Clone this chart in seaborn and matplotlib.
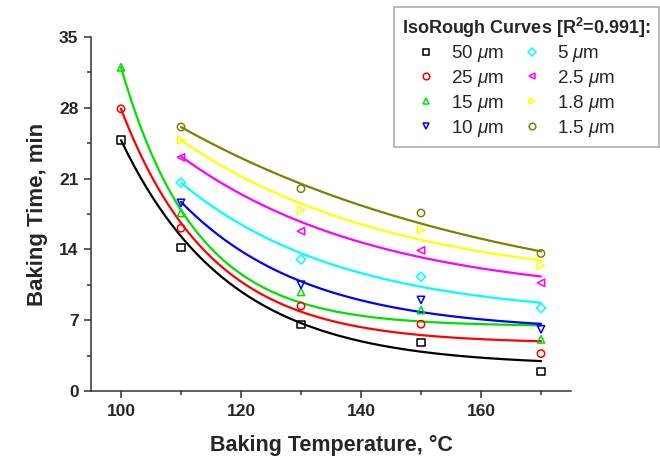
import numpy as np
import pandas as pd
import matplotlib
matplotlib.use("Agg")
import matplotlib.pyplot as plt
from matplotlib.lines import Line2D
from matplotlib.ticker import MultipleLocator
import seaborn as sns

# ---- data ----
temps = [100, 110, 130, 150, 170]
series_names = ["50 $\\mu$m", "25 $\\mu$m", "15 $\\mu$m", "10 $\\mu$m",
                "5 $\\mu$m", "2.5 $\\mu$m", "1.8 $\\mu$m", "1.5 $\\mu$m"]
colors = ["#000000", "#FF0000", "#00E000", "#0000FF",
          "#00FFFF", "#FF00FF", "#FFFF00", "#808000"]
markers = ["s", "o", "^", "v", "D", "<", ">", "o"]

# measured baking times (min); None = no measurement at that temperature
t_50 = [24.8, 14.2, 6.6, 4.8, 1.9]
t_25 = [27.9, 16.1, 8.4, 6.6, 3.7]
t_15 = [32.0, 17.6, 9.8, 8.0, 5.1]
t_10 = [None, 18.6, 10.5, 9.0, 6.1]
t_5 = [None, 20.6, 13.0, 11.3, 8.2]
t_2_5 = [None, 23.1, 15.8, 13.9, 10.7]
t_1_8 = [None, 24.8, 17.9, 15.9, 12.4]
t_1_5 = [None, 26.1, 20.0, 17.6, 13.6]
times = [t_50, t_25, t_15, t_10, t_5, t_2_5, t_1_8, t_1_5]

# IsoRough fitted curves (exponential decay y = y0 + A*exp(-(T - T0)/t)),
# parameters estimated from the drawn curves
fit_T0 = [100, 100, 100, 110, 110, 110, 110, 110]
fit_y0 = [2.5, 4.7, 6.4, 5.9, 7.3, 9.1, 10.2, 7.4]
fit_A = [22.3, 23.2, 25.6, 12.8, 13.3, 14.1, 14.6, 18.7]
fit_t = [18.0, 15.0, 12.5, 21.0, 26.9, 32.5, 35.6, 56.0]
fit_Tend = 170

legend_title = "IsoRough Curves [R$^\\mathbf{2}$=0.991]:"
x_label = "Baking Temperature, °C"
y_label = "Baking Time, min"
x_ticks = [100, 120, 140, 160]
y_ticks = [0, 7, 14, 21, 28, 35]

# ---- plotting ----
sns.set_theme(style="ticks")
plt.rcParams["font.family"] = ["Liberation Sans", "DejaVu Sans"]
plt.rcParams["mathtext.fontset"] = "custom"
plt.rcParams["mathtext.it"] = "Liberation Sans:italic"
plt.rcParams["mathtext.rm"] = "Liberation Sans"
plt.rcParams["mathtext.bf"] = "Liberation Sans:bold"

fig = plt.figure(figsize=(6.6, 4.58), dpi=100)
ax = fig.add_axes([91 / 660, 1 - 391 / 458, 480 / 660, 354 / 458])

for name, col, mk, ys, T0, y0, A, tau in zip(series_names, colors, markers, times,
                                              fit_T0, fit_y0, fit_A, fit_t):
    Tc = np.linspace(T0, fit_Tend, 200)
    curve = pd.DataFrame({"T": Tc, "y": y0 + A * np.exp(-(Tc - T0) / tau)})
    sns.lineplot(data=curve, x="T", y="y", color=col, linewidth=1.6, ax=ax)
    pts = pd.DataFrame({"T": temps, "y": ys}).dropna()
    size = 22 if mk == "D" else 28
    sns.scatterplot(data=pts, x="T", y="y", marker=mk, s=size,
                    facecolors="none", edgecolor=col, linewidth=1.1,
                    ax=ax, zorder=3)

ax.set_xlim(95, 175)
ax.set_ylim(0, 35)
ax.set_xticks(x_ticks)
ax.set_yticks(y_ticks)
ax.xaxis.set_minor_locator(MultipleLocator(10))
ax.yaxis.set_minor_locator(MultipleLocator(3.5))
ax.tick_params(which="major", direction="out", length=5, width=1.1,
               color="#333333", labelsize=12.5, pad=4)
ax.tick_params(which="minor", direction="out", length=3, width=1.1,
               color="#333333")
for lab in ax.get_xticklabels() + ax.get_yticklabels():
    lab.set_fontweight("bold")
for s in ["top", "right"]:
    ax.spines[s].set_visible(False)
for s in ["left", "bottom"]:
    ax.spines[s].set_color("#333333")
    ax.spines[s].set_linewidth(1.1)

ax.set_xlabel(x_label, fontsize=15.5, fontweight="bold", labelpad=12)
ax.set_ylabel(y_label, fontsize=16, fontweight="bold", labelpad=8)

handles = [Line2D([], [], linestyle="none", marker=mk, markersize=4.8 if mk != "D" else 4.3,
                  markerfacecolor="none", markeredgecolor=col, markeredgewidth=1.1)
           for col, mk in zip(colors, markers)]
leg = fig.legend(handles, series_names, ncol=2, loc="upper left",
                 bbox_to_anchor=(394 / 660, 1 - 7 / 458), borderaxespad=0,
                 title=legend_title,
                 title_fontproperties={"weight": "bold", "size": 13.0},
                 fontsize=13.5, frameon=True, fancybox=False, edgecolor="#999999",
                 labelspacing=0.2, handlelength=2.5, handletextpad=0.1,
                 columnspacing=0.25, borderpad=0.45, alignment="left")
leg.get_frame().set_linewidth(1.2)

fig.savefig("out.png", dpi=100)
